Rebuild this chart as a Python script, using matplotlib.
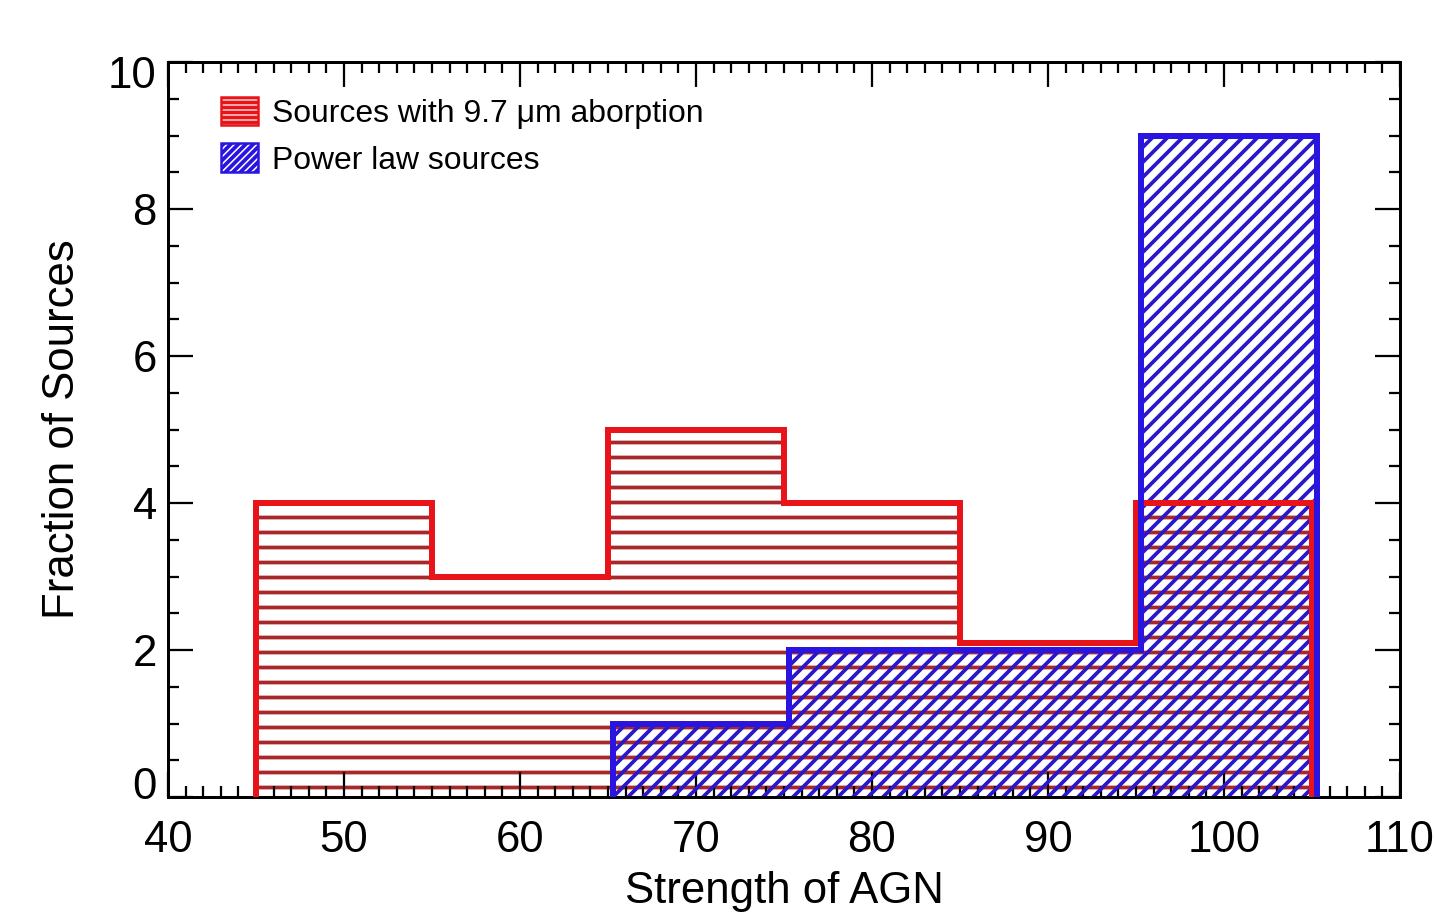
import matplotlib
matplotlib.use('Agg')
import matplotlib.pyplot as plt
from matplotlib.patches import Patch
from matplotlib.ticker import MultipleLocator
from matplotlib.transforms import ScaledTranslation

plt.rcParams['font.family'] = ['Liberation Sans', 'DejaVu Sans']
plt.rcParams['hatch.linewidth'] = 3.0

# histogram data
red_edges = [45, 55, 65, 75, 85, 95, 105]
red_counts = [4, 3, 5, 4, 2.1, 4]
blue_edges = [65.3, 75.3, 85.3, 95.3, 105.3]
blue_counts = [1, 2, 2, 9]

red_label = 'Sources with 9.7 \u03bcm aborption'
blue_label = 'Power law sources'

red_line = '#e8141a'
red_hatch = '#a8282a'
blue_line = '#2a14e0'
blue_hatch = '#2a18c8'

dpi = 90
fig = plt.figure(figsize=(1434 / dpi, 915 / dpi), dpi=dpi)
ax = fig.add_axes([168 / 1434, 1 - 797 / 915, (1400 - 168) / 1434, (797 - 62) / 915])

# hatched fills
ax.stairs(red_counts, red_edges, fill=True, facecolor='none', edgecolor=red_hatch,
          hatch='-', linewidth=0, zorder=1)
ax.stairs(blue_counts, blue_edges, fill=True, facecolor='none', edgecolor=blue_hatch,
          hatch='//', linewidth=0, zorder=2)
# outlines
ax.stairs(red_counts, red_edges, color=red_line, linewidth=4.8, zorder=3)
ax.stairs(blue_counts, blue_edges, color=blue_line, linewidth=4.8, zorder=4)

ax.set_xlim(40, 110)
ax.set_ylim(0, 10)
ax.xaxis.set_major_locator(MultipleLocator(10))
ax.xaxis.set_minor_locator(MultipleLocator(1))
ax.yaxis.set_major_locator(MultipleLocator(2))
ax.yaxis.set_minor_locator(MultipleLocator(0.5))

ax.tick_params(which='both', direction='in', top=True, right=True, width=1.8, color='black')
ax.tick_params(which='major', length=20, labelsize=35)
ax.tick_params(axis='x', which='major', pad=18)
ax.tick_params(axis='y', which='major', pad=9)
ax.tick_params(which='minor', length=9)
for s in ax.spines.values():
    s.set_linewidth(2.4)

ax.set_xlabel('Strength of AGN', fontsize=35, labelpad=8)
ax.set_ylabel('Fraction of Sources', fontsize=35, labelpad=20)

handles = [Patch(facecolor='white', edgecolor=red_line, hatch='---', linewidth=2, label=red_label),
           Patch(facecolor='white', edgecolor=blue_line, hatch='////', linewidth=2, label=blue_label)]
ax.legend(handles=handles, loc='upper left', frameon=False, fontsize=25.5,
          bbox_to_anchor=(0.033, 0.97), handlelength=1.15, handleheight=1.0,
          handletextpad=0.45, labelspacing=0.45, borderaxespad=0)

# IDL-style end labels: bottom one nudged up, top one nudged down
fig.canvas.draw()
for t in ax.yaxis.get_major_ticks():
    if abs(t.get_loc() - 0) < 1e-9:
        t.label1.set_transform(t.label1.get_transform() + ScaledTranslation(0, 14 / dpi, fig.dpi_scale_trans))
    elif abs(t.get_loc() - 10) < 1e-9:
        t.label1.set_transform(t.label1.get_transform() + ScaledTranslation(0, -10 / dpi, fig.dpi_scale_trans))

fig.savefig('out.png', dpi=dpi)
